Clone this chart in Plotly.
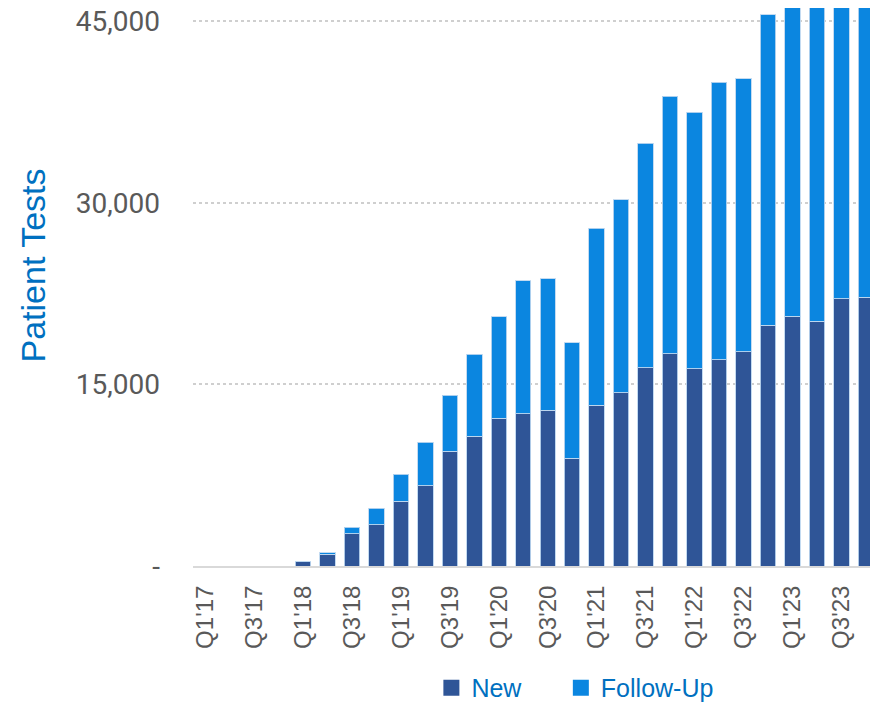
import plotly.graph_objects as go

quarters = [f"Q{q}'{y}" for y in range(17, 24) for q in range(1, 5)]

new_tests = [0, 0, 0, 0,
             350, 980, 2680, 3400,
             5330, 6620, 9500, 10720,
             12220, 12590, 12880, 8910,
             13300, 14320, 16370, 17530,
             16310, 17060, 17720, 19870,
             20620, 20240, 22090, 22190]

follow_up_tests = [0, 0, 0, 0,
                   0, 120, 510, 1370,
                   2250, 3610, 4620, 6780,
                   8370, 10980, 10860, 9530,
                   14610, 15950, 18540, 21270,
                   21190, 22900, 22540, 25670,
                   27900, 29800, 29100, 30600]

tick_labels = quarters[::2]
y_tick_vals = [0, 15000, 30000, 45000]
y_tick_text = ["-", "15,000", "30,000", "45,000"]

NEW_COLOR = "#2F5597"
FU_COLOR = "#0B86E0"
BLUE_TEXT = "#0070C0"
GRAY_TEXT = "#595959"
EDGE = "rgba(190,215,240,0.9)"

fig = go.Figure()
fig.add_trace(go.Bar(x=quarters, y=new_tests, name="New", showlegend=False,
                     marker=dict(color=NEW_COLOR, line=dict(color=EDGE, width=1))))
fig.add_trace(go.Bar(x=quarters, y=follow_up_tests, name="Follow-Up", showlegend=False,
                     marker=dict(color=FU_COLOR, line=dict(color=EDGE, width=1))))
# legend entries with larger square swatches, one per legend for free spacing
for name, color, leg in [("New", NEW_COLOR, "legend"), ("Follow-Up", FU_COLOR, "legend2")]:
    fig.add_trace(go.Scatter(x=[None], y=[None], mode="markers", name=name, legend=leg,
                             marker=dict(symbol="square", size=16, color=color,
                                         line=dict(width=0))))

legend_font = dict(size=25, color=BLUE_TEXT, family="Liberation Sans, Arial, sans-serif")
fig.update_layout(
    width=870, height=695,
    barmode="stack", bargap=0.37,
    plot_bgcolor="white", paper_bgcolor="white",
    margin=dict(l=185, r=0, t=0, b=137, autoexpand=False),
    font=dict(family="Liberation Sans, Arial, sans-serif", color=GRAY_TEXT),
    showlegend=True,
    legend=dict(orientation="h", x=0.348, xanchor="left", y=-0.2185, yanchor="middle",
                font=legend_font, bgcolor="rgba(0,0,0,0)", itemsizing="trace"),
    legend2=dict(orientation="h", x=0.537, xanchor="left", y=-0.2185, yanchor="middle",
                 font=legend_font, bgcolor="rgba(0,0,0,0)", itemsizing="trace"),
)

fig.update_xaxes(
    type="category",
    tickmode="array", tickvals=tick_labels, ticktext=tick_labels,
    tickangle=-90, ticks="", ticklabelstandoff=8, ticklabeloverflow="allow",
    tickfont=dict(size=24, color=GRAY_TEXT, family="Liberation Sans, Arial, sans-serif"),
    showgrid=False, showline=True, linecolor="#D9D9D9", linewidth=2,
    range=[-0.5, 27.5],
)

fig.update_yaxes(
    range=[0, 46100],
    tickmode="array", tickvals=y_tick_vals, ticktext=y_tick_text,
    ticks="", ticklabelstandoff=32, ticklabeloverflow="allow",
    tickfont=dict(size=28, color=GRAY_TEXT, family="Roboto, sans-serif"),
    showgrid=True, gridcolor="#CFCFCF", gridwidth=1.5, griddash="dot",
    zeroline=False, showline=False,
)

fig.add_annotation(
    text="Patient Tests", xref="paper", yref="paper",
    x=(25 - 185) / 685, y=0.5385, xanchor="center", yanchor="middle",
    textangle=-90, showarrow=False,
    font=dict(size=34, color=BLUE_TEXT, family="Liberation Sans, Arial, sans-serif"),
)

fig.write_html("out.html")
